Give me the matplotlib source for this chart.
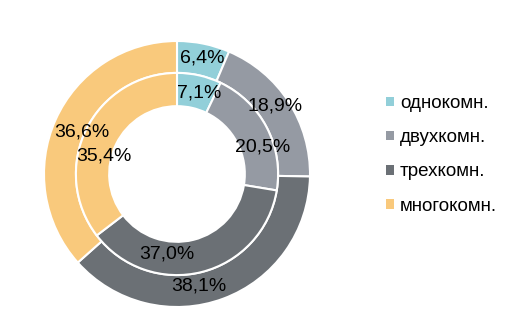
import matplotlib.pyplot as plt
from matplotlib.patches import Patch

plt.rcParams['font.family'] = ['Liberation Sans', 'DejaVu Sans']

# доли квартир по числу комнат, %
categories = ['однокомн.', 'двухкомн.', 'трехкомн.', 'многокомн.']
outer_values = [6.4, 18.9, 38.1, 36.6]
inner_values = [7.1, 20.5, 37.0, 35.4]
colors = ['#92cfd9', '#959aa3', '#6b7075', '#f9c97c']

# сдвиг подписей относительно середины сектора, px (x вправо, y вниз)
outer_shift = [(2, -1), (0, -4), (-19, 2), (12, 6)]
inner_shift = [(4, 0), (12, 11), (-30, 0), (1, 19)]


def fmt(v):
    return f"{v:.1f}%".replace('.', ',')


fig = plt.figure(figsize=(5.22, 3.26), dpi=100)
cx, cy, r = 177, 152, 133
ax = fig.add_axes([(cx - r) / 522, (cy - r) / 326, 2 * r / 522, 2 * r / 326])

# внешнее кольцо
w_out, t_out = ax.pie(outer_values, radius=1.0, colors=colors, startangle=90,
                      counterclock=False,
                      wedgeprops=dict(width=0.24, edgecolor='white', linewidth=1.5),
                      labels=[fmt(v) for v in outer_values], labeldistance=0.88,
                      textprops=dict(fontsize=14, color='black'))

# внутреннее кольцо
w_in, t_in = ax.pie(inner_values, radius=0.76, colors=colors, startangle=90,
                    counterclock=False,
                    wedgeprops=dict(width=0.25, edgecolor='white', linewidth=1.5),
                    labels=[fmt(v) for v in inner_values], labeldistance=0.82,
                    textprops=dict(fontsize=14, color='black'))

for texts, shifts in ((t_out, outer_shift), (t_in, inner_shift)):
    for t, (dx, dy) in zip(texts, shifts):
        x, y = t.get_position()
        t.set_position((x + dx / r, y - dy / r))
        t.set_ha('center')
        t.set_va('center')

ax.set_xlim(-1, 1)
ax.set_ylim(-1, 1)
ax.set_aspect('equal')
ax.axis('off')

handles = [Patch(facecolor=c, edgecolor='none') for c in colors]
fig.legend(handles, categories, loc='upper left', bbox_to_anchor=(386 / 522, 1 - 95 / 326),
           frameon=False, fontsize=13.5, handlelength=0.4, handleheight=0.4,
           handletextpad=0.35, labelspacing=0.92, borderpad=0, borderaxespad=0)

fig.savefig('out.png', dpi=100)
